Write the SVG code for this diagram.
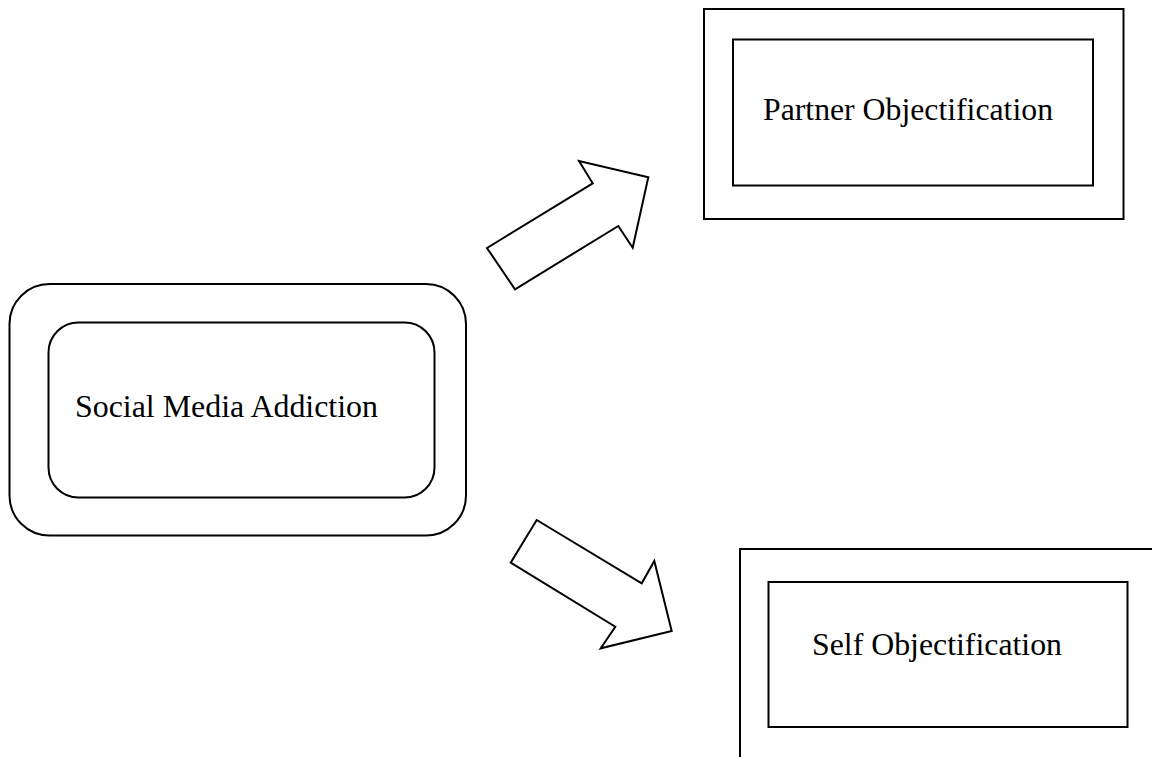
<svg xmlns="http://www.w3.org/2000/svg" width="1152" height="757" viewBox="0 0 1152 757">
<style>
.box{fill:none;stroke:#000;stroke-width:2}
.arrow{fill:#fff;stroke:#000;stroke-width:2;stroke-linejoin:miter}
.lbl{font-family:"Liberation Serif","Times New Roman",serif;font-size:32px;fill:#000}
</style>
<rect width="1152" height="757" fill="#fff"/>
<g id="social-media-addiction">
<rect class="box" x="9.5" y="284" width="456.5" height="251.5" rx="40" ry="40"/>
<rect class="box" x="48.5" y="322.5" width="386" height="175" rx="30" ry="30"/>
<text class="lbl" x="75" y="417" textLength="303" lengthAdjust="spacingAndGlyphs">Social Media Addiction</text>
</g>
<g id="partner-objectification">
<rect class="box" x="704" y="9" width="419.5" height="210"/>
<rect class="box" x="733" y="39.5" width="360" height="146"/>
<text class="lbl" x="763" y="120" textLength="290" lengthAdjust="spacingAndGlyphs">Partner Objectification</text>
</g>
<g id="self-objectification">
<rect class="box" x="740" y="549" width="440" height="230"/>
<rect class="box" x="768.5" y="582" width="359" height="145"/>
<text class="lbl" x="812" y="655" fill="#141422" textLength="250" lengthAdjust="spacingAndGlyphs">Self Objectification</text>
</g>
<g id="connectors">
<polygon class="arrow" points="487,248 592.7,183.3 579,161 648.3,177.3 632.7,247.7 618.3,226 515,289.3"/>
<polygon class="arrow" points="536.7,520 641.7,583.3 654.3,561 671.7,631 600.7,648.3 615.3,626.7 510.7,562.7"/>
</g>
</svg>
